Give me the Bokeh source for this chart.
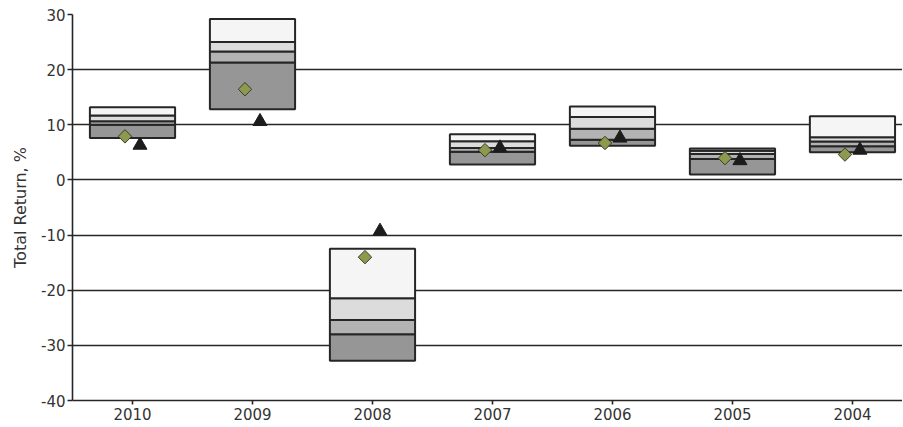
import math
from bokeh.plotting import figure
from bokeh.models import ColumnDataSource, Range1d, FixedTicker
from bokeh.embed import file_html
from bokeh.resources import INLINE

# ---- data ----
years = ["2010", "2009", "2008", "2007", "2006", "2005", "2004"]
p_low = [7.6, 12.8, -32.8, 2.8, 6.2, 1.0, 5.0]
p_q1 = [10.0, 21.3, -28.0, 5.1, 7.3, 3.8, 6.1]
p_med = [10.65, 23.3, -25.4, 5.8, 9.3, 4.7, 6.95]
p_q3 = [11.7, 25.0, -21.45, 7.0, 11.4, 5.3, 7.75]
p_high = [13.2, 29.2, -12.5, 8.3, 13.3, 5.7, 11.55]
diamond_vals = [7.9, 16.45, -14.0, 5.4, 6.7, 3.95, 4.6]
triangle_vals = [6.3, 10.6, -9.3, 5.8, 7.6, 3.5, 5.4]
y_ticks = [-40, -30, -20, -10, 0, 10, 20, 30]
y_tick_labels = ["-40", "-30", "-20", "-10", "0", "10", "20", "30"]

FONT = "DejaVu Sans"
DARK = "#262626"

xs = list(range(len(years)))
half = 0.355
off = 0.0625

src = ColumnDataSource(dict(
    x=xs,
    left=[x - half for x in xs],
    right=[x + half for x in xs],
    low=p_low, q1=p_q1, med=p_med, q3=p_q3, high=p_high,
    xd=[x - off for x in xs],
    xt=[x + off for x in xs],
    dia=diamond_vals, tri=triangle_vals,
))

p = figure(width=902, height=426, output_backend="svg", toolbar_location=None,
           x_range=Range1d(-0.5, 6.417), y_range=Range1d(-40, 30),
           min_border_left=72, min_border_right=0, min_border_top=14,
           min_border_bottom=26)
p.outline_line_color = None
p.background_fill_color = "white"

# grid
p.xgrid.grid_line_color = None
p.ygrid.grid_line_color = DARK
p.ygrid.grid_line_width = 1.6

# boxes: four bands
bands = [("low", "q1", "#969696"), ("q1", "med", "#b3b3b3"),
         ("med", "q3", "#dcdcdc"), ("q3", "high", "#f5f5f5")]
for b, t, c in bands:
    p.quad(left="left", right="right", bottom=b, top=t, source=src,
           fill_color=c, line_color=DARK, line_width=2)

# markers
p.scatter(x="xd", y="dia", source=src, marker="square", size=9.5,
          angle=math.pi / 4,
          fill_color="#8c9a4e", line_color="#3a3a2a", line_width=1)
p.scatter(x="xt", y="tri", source=src, marker="triangle", size=14,
          fill_color="#1c1c1c", line_color="#1c1c1c", line_width=1)

# axes
p.xaxis.ticker = FixedTicker(ticks=xs)
p.xaxis.major_label_overrides = {i: y for i, y in enumerate(years)}
p.yaxis.ticker = FixedTicker(ticks=y_ticks)
p.yaxis.major_label_overrides = {v: s for v, s in zip(y_ticks, y_tick_labels)}
for ax in (p.xaxis[0], p.yaxis[0]):
    ax.axis_line_color = DARK
    ax.axis_line_width = 1.6
    ax.major_tick_line_color = DARK
    ax.major_tick_line_width = 1.6
    ax.minor_tick_line_color = None
    ax.major_tick_in = 0
    ax.major_label_text_font = FONT
    ax.major_label_text_font_size = "15px"
    ax.major_label_text_color = "#333333"
p.xaxis.major_tick_out = 4
p.yaxis.major_tick_out = 5
p.xaxis.major_label_standoff = 3
p.yaxis.major_label_standoff = 2
p.yaxis.axis_label = "Total Return, %"
p.yaxis.axis_label_text_font = FONT
p.yaxis.axis_label_text_font_size = "16px"
p.yaxis.axis_label_text_font_style = "normal"
p.yaxis.axis_label_text_color = "#333333"
p.yaxis.axis_label_standoff = 8

open("out.html", "w").write(file_html(p, INLINE))
